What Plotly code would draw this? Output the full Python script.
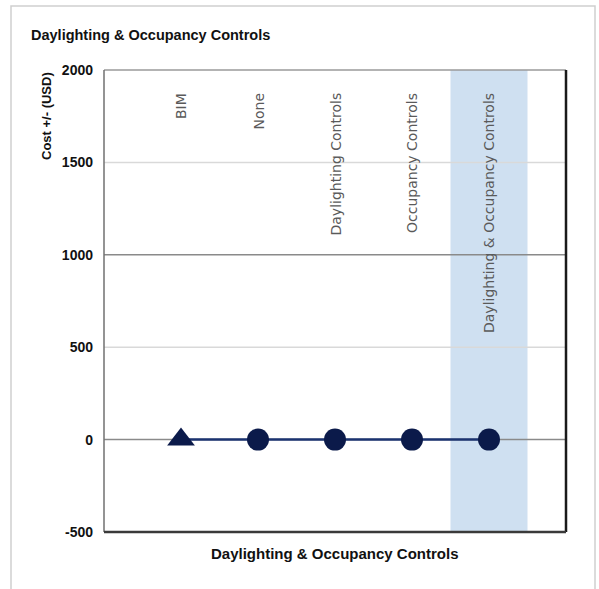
import plotly.graph_objects as go

# Control strategies and their cost change (USD)
categories = ["BIM", "None", "Daylighting Controls", "Occupancy Controls",
              "Daylighting & Occupancy Controls"]
cost_delta = [0, 0, 0, 0, 0]
marker_symbols = ["triangle-up", "circle", "circle", "circle", "circle"]
highlighted = "Daylighting & Occupancy Controls"

y_ticks = [-500, 0, 500, 1000, 1500, 2000]
major_grid = [0, 1000]
minor_grid = [500, 1500]

x_pos = list(range(len(categories)))
NARROW = "Liberation Sans Narrow, Arial Narrow, Liberation Sans, Arial"

fig = go.Figure()

fig.add_trace(go.Scatter(
    x=x_pos, y=cost_delta, mode="lines+markers",
    line=dict(color="#1b3370", width=2.5),
    marker=dict(symbol=marker_symbols, size=[24, 22, 22, 22, 22],
                color="#0b1a4a", opacity=1, line=dict(width=0)),
    opacity=1, showlegend=False, hoverinfo="skip",
))

shapes = []
# highlighted column
hi = categories.index(highlighted)
shapes.append(dict(type="rect", xref="x", yref="paper", x0=hi - 0.5, x1=hi + 0.5,
                   y0=0, y1=1, fillcolor="#cfe0f1", line=dict(width=0), layer="below"))
# grid lines: light at the half-thousands, darker at the thousands
for g in minor_grid:
    shapes.append(dict(type="line", xref="paper", yref="y", x0=0, x1=1, y0=g, y1=g,
                       line=dict(color="#d9d9d9", width=1.5), layer="below"))
for g in major_grid:
    shapes.append(dict(type="line", xref="paper", yref="y", x0=0, x1=1, y0=g, y1=g,
                       line=dict(color="#8a8a8a", width=1.5), layer="below"))
# plot frame
shapes.append(dict(type="line", xref="paper", yref="paper", x0=0, x1=1, y0=1, y1=1,
                   line=dict(color="#9a9a9a", width=1.5)))
shapes.append(dict(type="line", xref="paper", yref="paper", x0=0, x1=0, y0=0, y1=1,
                   line=dict(color="#707070", width=1.5)))
shapes.append(dict(type="line", xref="paper", yref="paper", x0=1, x1=1, y0=0, y1=1,
                   line=dict(color="#1a1a1a", width=2.5)))
shapes.append(dict(type="line", xref="paper", yref="paper", x0=0, x1=1, y0=0, y1=0,
                   line=dict(color="#3a3a3a", width=2.5)))
# outer card border
L, R, T, B = 104, 33, 70, 57
pw, ph = 599 - L - R, 589 - T - B
shapes.append(dict(type="rect", xref="paper", yref="paper",
                   x0=(11 - L) / pw, x1=(595 - L) / pw,
                   y0=(589 - B - 600) / ph, y1=(589 - B - 6) / ph,
                   line=dict(color="#cfcfcf", width=1.5), fillcolor="rgba(0,0,0,0)"))

annotations = []
for i, name in enumerate(categories):
    annotations.append(dict(x=i, y=1, xref="x", yref="paper", yshift=-21,
                            text=name, textangle=-90, showarrow=False,
                            xanchor="center", yanchor="top",
                            font=dict(family="DejaVu Sans", size=14,
                                      color="#5a5a5a")))
annotations.append(dict(x=(29 - L) / pw, y=(589 - B - 35) / ph, xref="paper", yref="paper",
                        text="<b>Daylighting & Occupancy Controls</b>", showarrow=False,
                        xanchor="left", yanchor="middle",
                        font=dict(family=NARROW, size=14.5, color="#111111")))
annotations.append(dict(x=(46 - L) / pw, y=(589 - B - 70) / ph, xref="paper", yref="paper",
                        text="<b>Cost +/- (USD)</b>", textangle=-90, showarrow=False,
                        xanchor="center", yanchor="top",
                        font=dict(family=NARROW, size=13, color="#111111")))
annotations.append(dict(x=0.5, y=(589 - B - 553) / ph, xref="paper", yref="paper",
                        text="<b>Daylighting & Occupancy Controls</b>", showarrow=False,
                        xanchor="center", yanchor="middle",
                        font=dict(family=NARROW, size=15, color="#111111")))

fig.update_layout(
    width=599, height=589,
    margin=dict(l=L, r=R, t=T, b=B),
    paper_bgcolor="white", plot_bgcolor="white",
    shapes=shapes, annotations=annotations,
    xaxis=dict(range=[-1, len(categories)], showticklabels=False, showgrid=False,
               zeroline=False, showline=False, ticks=""),
    yaxis=dict(range=[-500, 2000], tickvals=y_ticks, ticktext=[f"<b>{v}</b>" for v in y_ticks],
               showgrid=False, zeroline=False,
               showline=False, ticks="", ticklabelstandoff=10,
               tickfont=dict(family=NARROW, size=14, color="#111111")),
)

fig.write_html("out.html")
